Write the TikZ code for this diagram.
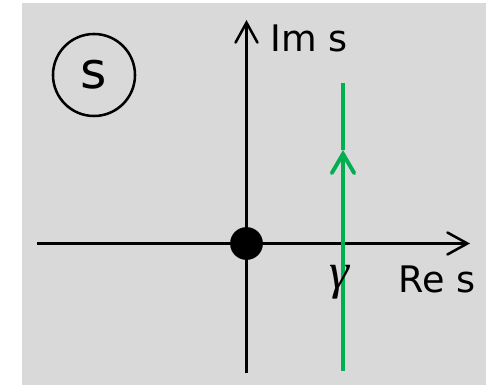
\documentclass[tikz,border=0pt]{standalone}
\usepackage{fontspec}
\setmainfont{DejaVu Sans}
\newfontfamily\greekfont{Liberation Serif}
\usetikzlibrary{arrows.meta}
\definecolor{planegray}{HTML}{D9D9D9}
\definecolor{pathgreen}{HTML}{00B050}
\tikzset{
  spaxis/.style={line width=1.8pt, draw=black,
    -{Straight Barb[length=5mm,width=5.5mm,line width=1.8pt,line cap=round]}},
  splabel/.style={font=\fontsize{26}{30}\selectfont, inner sep=0pt, anchor=base west},
  sppath/.style={line width=2.8pt, draw=pathgreen},
  sparrow/.style={sppath, -{Straight Barb[length=4.8mm,width=5.6mm,line width=2.8pt,line cap=round]}},
  sptag/.style={circle, draw=black, line width=1.8pt, minimum size=2.05cm, inner sep=0pt,
    font=\fontsize{36}{40}\selectfont},
  spdot/.style={circle, fill=black, minimum size=0.82cm, inner sep=0pt}
}

\begin{document}
\begin{tikzpicture}[x=0.025cm, y=-0.025cm]
  \useasboundingbox (0,0) rectangle (486,385);
  \fill[planegray] (22,3) rectangle (486,385);
  % axes
  \coordinate (reL) at (37,243.5);
  \coordinate (reR) at (470,243.5);
  \coordinate (imB) at (246.5,373);
  \coordinate (imT) at (246.5,20);
  \draw[spaxis] (reL) -- (reR);
  \draw[spaxis] (imB) -- (imT);
  \node[spdot] (orig) at (246.5,243.5) {};
  % contour
  \coordinate (gB) at (343,371);
  \coordinate (gM) at (343,150);
  \coordinate (gT) at (343,83);
  \draw[sparrow] (gB) -- (gM);
  \draw[sppath] (gM) -- (gT);
  % labels
  \node[splabel] (ims) at (270,52) {Im s};
  \node[splabel] (res) at (398,293) {Re s};
  \node[inner sep=0pt, font=\greekfont\itshape\fontsize{36}{40}\selectfont] (gam) at (339,282) {γ};
  \node[sptag] (plane) at (94,75) {s};
\end{tikzpicture}
\end{document}
